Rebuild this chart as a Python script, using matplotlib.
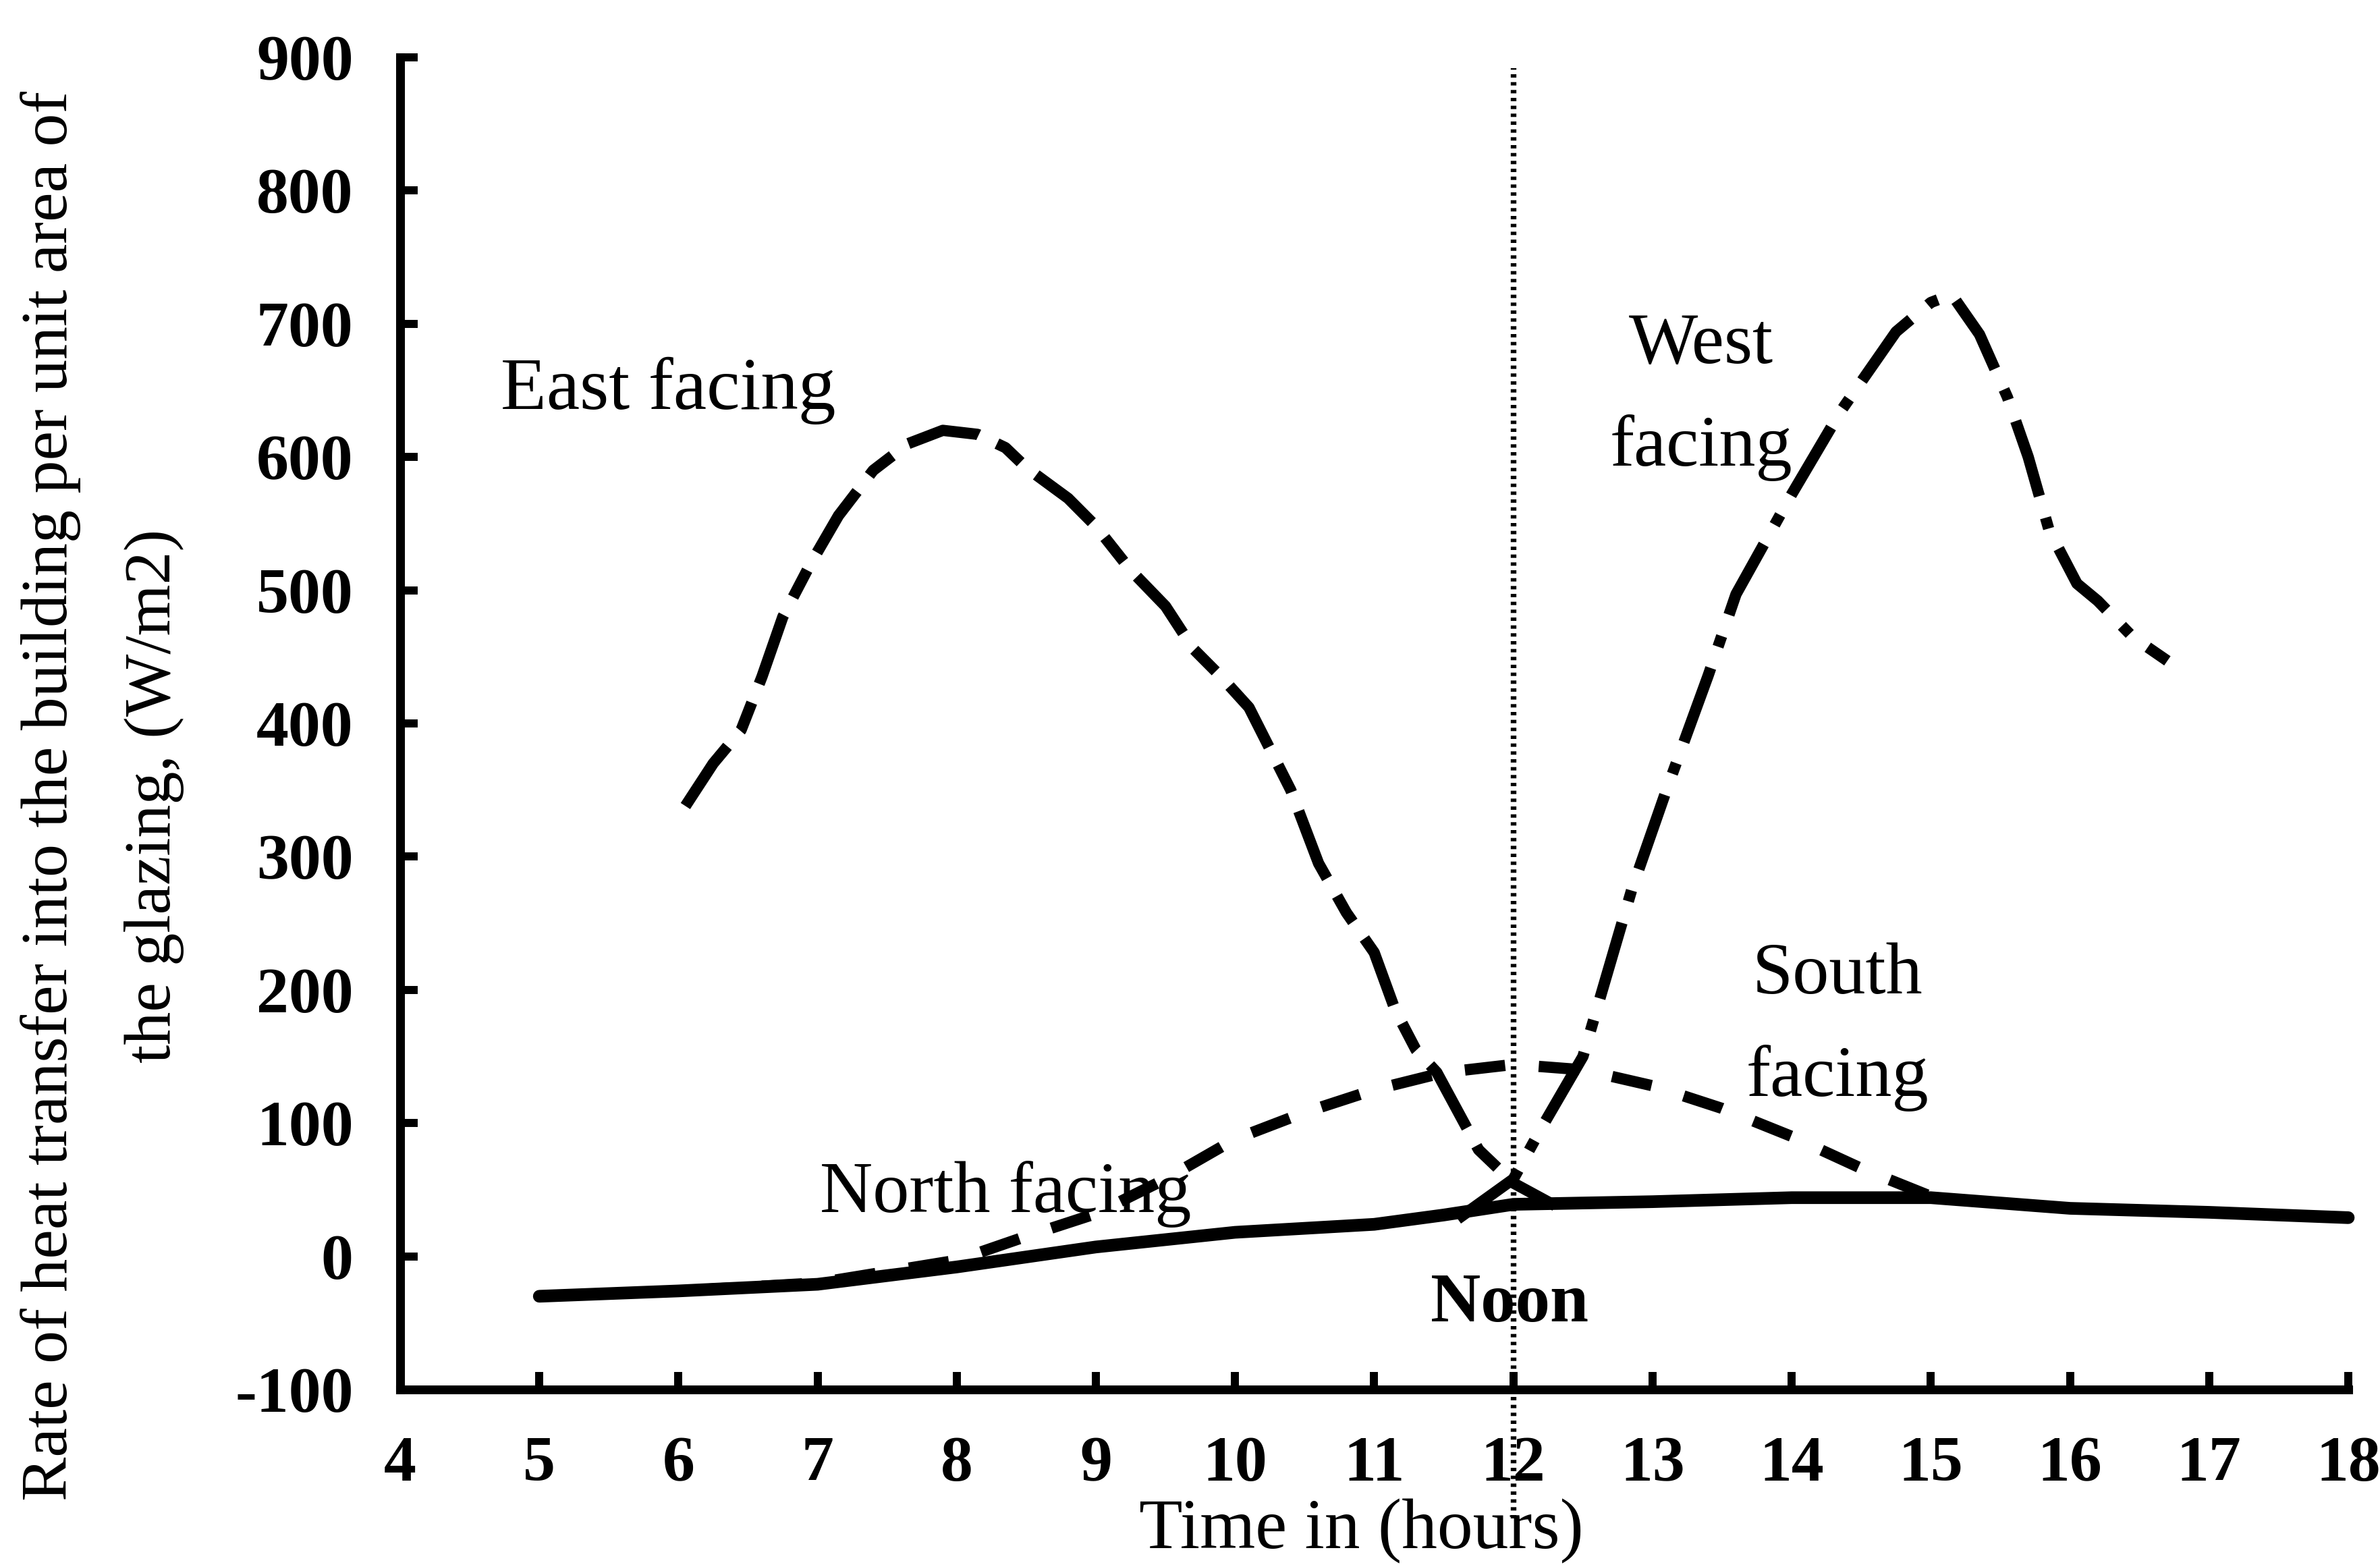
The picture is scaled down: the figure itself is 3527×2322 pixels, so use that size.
import matplotlib
matplotlib.use("Agg")
import matplotlib.pyplot as plt

# ---------------- data ----------------
hour_ticks = list(range(4, 19))
value_ticks = list(range(-100, 901, 100))

north_x = [5, 6, 7, 8, 9, 10, 11, 11.5, 12, 13, 14, 15, 16, 17, 18]
north_y = [-30, -26, -21, -8, 7, 18, 24, 31, 39, 41, 44, 44, 36, 33, 29]

south_x = [5, 6, 7, 8, 8.5, 9, 9.5, 10, 10.5, 11, 11.5, 12, 12.5, 13, 13.5, 14, 14.5, 15]
south_y = [-30, -26, -20, -3, 15, 32, 58, 88, 108, 125, 138, 144, 140, 128, 111, 90, 66, 45]

east_x = [6.05, 6.25, 6.45, 6.6, 6.75, 6.95, 7.15, 7.4, 7.65, 7.9, 8.15, 8.35, 8.5,
          8.8, 9.0, 9.25, 9.5, 9.7, 9.9, 10.1, 10.4, 10.6, 10.8, 11.0, 11.15, 11.3,
          11.45, 11.75, 12.0, 12.3]
east_y = [338, 370, 395, 435, 480, 520, 556, 590, 610, 620, 617, 607, 592,
          569, 548, 515, 488, 456, 435, 412, 350, 295, 258, 228, 185, 155,
          138, 80, 55, 38]

west_x = [11.6, 12.0, 12.2, 12.5, 12.85, 13.1, 13.4, 13.6, 14.0, 14.35, 14.75, 15.0,
          15.15, 15.35, 15.55, 15.7, 15.85, 16.05, 16.2, 16.45, 16.7]
west_y = [28, 58, 96, 150, 275, 350, 436, 497, 572, 634, 694, 716,
          722, 692, 645, 600, 545, 505, 492, 465, 447]

noon_hour = 12
noon_span = [-197, 892]

x_label = "Time in (hours)"
y_label = "Rate of heat transfer into the building per unit area of\nthe glazing, (W/m2)"

# ---------------- figure ----------------
plt.rcParams['font.family'] = ['Liberation Serif', 'DejaVu Serif']

fig = plt.figure(figsize=(35.27, 23.22), dpi=100)
ax = fig.add_axes([0.16813, 0.11327, 0.81854, 0.85013])

ax.set_xlim(4, 18)
ax.set_ylim(-100, 900)

for s in ['top', 'right']:
    ax.spines[s].set_visible(False)
for s in ['left', 'bottom']:
    ax.spines[s].set_linewidth(9.4)

ax.set_xticks(hour_ticks)
ax.set_xticklabels([str(h) for h in hour_ticks])
ax.set_yticks(value_ticks)
ax.set_yticklabels([str(v) for v in value_ticks])

ax.tick_params(axis='both', direction='in', length=19, width=8.6, labelsize=69)
ax.tick_params(axis='x', pad=50)
ax.tick_params(axis='y', pad=50)
for lbl in ax.get_xticklabels() + ax.get_yticklabels():
    lbl.set_fontweight('bold')

# lines
ax.plot(north_x, north_y, color='black', lw=13.5, solid_capstyle='round',
        solid_joinstyle='round', clip_on=False, zorder=3)
ax.plot(south_x, south_y, color='black', lw=12, ls=(0, (3.6, 3.0)),
        clip_on=False, zorder=3)
ax.plot(east_x, east_y, color='black', lw=12, ls=(0, (6.5, 1.8, 2.7, 1.8)),
        clip_on=False, zorder=3)
ax.plot(west_x, west_y, color='black', lw=12, ls=(0, (7, 2, 1, 2)),
        clip_on=False, zorder=3)
ax.plot([noon_hour, noon_hour], noon_span, color='black', lw=6,
        ls=(0, (0.6, 0.8)), clip_on=False, zorder=2)

# annotations
ax.text(5.925, 636, "East facing", fontsize=80, ha='center', va='baseline')
ax.text(13.35, 645, "West\nfacing", fontsize=78, ha='center', va='center',
        multialignment='center', linespacing=1.7)
ax.text(14.33, 172, "South\nfacing", fontsize=78, ha='center', va='center',
        multialignment='center', linespacing=1.7)
ax.text(8.35, 33, "North facing", fontsize=78, ha='center', va='baseline')
ax.text(11.97, -49, "Noon", fontsize=74, fontweight='bold', ha='center', va='baseline')

# axis titles
fig.text(0.572, 0.012, x_label, fontsize=76, ha='center', va='baseline')
fig.text(0.043, 0.492, y_label, fontsize=70.5, rotation=90, ha='center', va='center',
         multialignment='center', linespacing=1.95)

fig.savefig("out.png", dpi=100, facecolor='white')
